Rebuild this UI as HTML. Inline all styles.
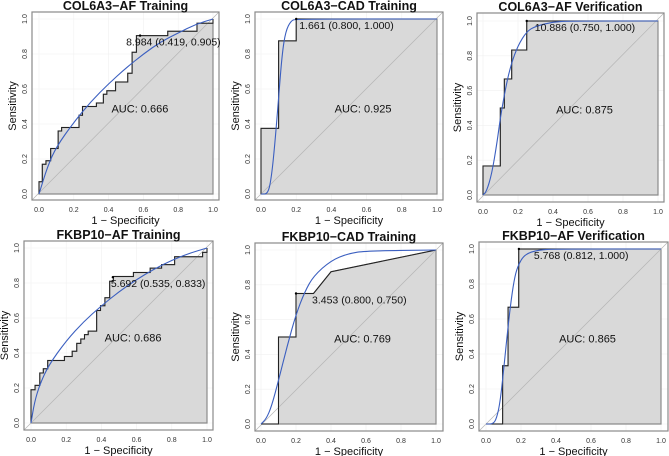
<!DOCTYPE html>
<html><head><meta charset="utf-8">
<style>
body{margin:0;background:#fff;}
svg{display:block;font-family:"Liberation Sans",sans-serif;}
</style></head>
<body>
<svg id="chart" width="669" height="456" viewBox="0 0 669 456"></svg>
<script>
// ---- data (x = 1 - specificity, y = sensitivity) ----
const titles = ["COL6A3\u2212AF Training","COL6A3\u2212CAD Training","COL6A3\u2212AF Verification","FKBP10\u2212AF Training","FKBP10\u2212CAD Training","FKBP10\u2212AF Verification"];
const aucLabels = ["AUC: 0.666","AUC: 0.925","AUC: 0.875","AUC: 0.686","AUC: 0.769","AUC: 0.865"];
const thresholdLabels = ["8.984 (0.419, 0.905)","1.661 (0.800, 1.000)","10.886 (0.750, 1.000)","5.692 (0.535, 0.833)","3.453 (0.800, 0.750)","5.768 (0.812, 1.000)"];
const thresholdX = [0.581,0.2,0.25,0.465,0.2,0.188];
const thresholdY = [0.905,1.0,1.0,0.833,0.75,1.0];
const stepX1 = [0,0,0.019,0.019,0.04,0.04,0.067,0.067,0.11,0.11,0.13,0.13,0.23,0.23,0.25,0.25,0.33,0.33,0.37,0.37,0.39,0.39,0.44,0.44,0.51,0.51,0.535,0.535,0.56,0.56,0.74,0.74,0.908,0.908,1,1];
const stepY1 = [0,0.07,0.07,0.17,0.17,0.19,0.19,0.26,0.26,0.36,0.36,0.38,0.38,0.45,0.45,0.50,0.50,0.52,0.52,0.57,0.57,0.59,0.59,0.64,0.64,0.69,0.69,0.81,0.81,0.905,0.905,0.93,0.93,0.976,0.976,1];
const stepX2 = [0,0,0.1,0.1,0.2,0.2,1];
const stepY2 = [0,0.375,0.375,0.875,0.875,1,1];
const stepX3 = [0,0,0.099,0.099,0.122,0.122,0.164,0.164,0.25,0.25,1];
const stepY3 = [0,0.167,0.167,0.5,0.5,0.667,0.667,0.833,0.833,1,1];
const stepX4 = [0,0,0.023,0.023,0.05,0.05,0.07,0.07,0.095,0.095,0.19,0.19,0.234,0.234,0.26,0.26,0.283,0.283,0.304,0.304,0.325,0.325,0.373,0.373,0.395,0.395,0.42,0.42,0.447,0.447,0.468,0.468,0.582,0.582,0.677,0.677,0.742,0.742,0.816,0.816,0.975,0.975,1,1];
const stepY4 = [0,0.19,0.19,0.215,0.215,0.286,0.286,0.31,0.31,0.357,0.357,0.38,0.38,0.41,0.41,0.455,0.455,0.48,0.48,0.505,0.505,0.525,0.525,0.643,0.643,0.67,0.67,0.716,0.716,0.81,0.81,0.837,0.837,0.86,0.86,0.885,0.885,0.905,0.905,0.95,0.95,0.975,0.975,1];
const stepX5 = [0,0.1,0.1,0.2,0.2,0.3,0.4,1];
const stepY5 = [0,0,0.5,0.5,0.75,0.75,0.875,1];
const stepX6 = [0,0.095,0.095,0.126,0.126,0.187,0.187,1];
const stepY6 = [0,0,0.333,0.333,0.667,0.667,1,1];
const smoothX1 = [0,0.05,0.1,0.2,0.3,0.4,0.5,0.6,0.7,0.8,0.9,1];
const smoothY1 = [0,0.16,0.27,0.41,0.53,0.63,0.72,0.8,0.87,0.92,0.97,1];
const smoothX2 = [0,0.04,0.06,0.08,0.1,0.12,0.14,0.17,0.2,1];
const smoothY2 = [0,0,0.1,0.3,0.55,0.8,0.93,0.99,1,1];
const smoothX3 = [0,0.02,0.05,0.08,0.1,0.13,0.16,0.2,0.25,0.3,0.4,0.5,1];
const smoothY3 = [0,0.02,0.12,0.3,0.45,0.62,0.75,0.86,0.94,0.97,0.995,1,1];
const smoothX4 = [0,0.02,0.05,0.1,0.2,0.3,0.4,0.5,0.6,0.7,0.8,0.9,1];
const smoothY4 = [0,0.12,0.22,0.33,0.47,0.58,0.67,0.75,0.82,0.88,0.93,0.97,1];
const smoothX5 = [0,0.03,0.06,0.1,0.15,0.2,0.25,0.3,0.4,0.5,0.6,1];
const smoothY5 = [0,0.03,0.1,0.25,0.45,0.63,0.76,0.85,0.94,0.98,0.995,1];
const smoothX6 = [0,0.04,0.06,0.08,0.1,0.12,0.14,0.16,0.18,0.22,0.3,0.4,1];
const smoothY6 = [0,0,0.03,0.12,0.3,0.5,0.68,0.82,0.9,0.97,0.995,1,1];
const tickValues = [0,0.2,0.4,0.6,0.8,1.0];
const tickLabels = ["0.0","0.2","0.4","0.6","0.8","1.0"];

const stepXs=[stepX1,stepX2,stepX3,stepX4,stepX5,stepX6];
const stepYs=[stepY1,stepY2,stepY3,stepY4,stepY5,stepY6];
const smoothXs=[smoothX1,smoothX2,smoothX3,smoothX4,smoothX5,smoothX6];
const smoothYs=[smoothY1,smoothY2,smoothY3,smoothY4,smoothY5,smoothY6];

const layouts=[
 {x0:39,x1:213,y0:194,y1:19,bx:32,by:12,bw:187,bh:188,lo:-14},
 {x0:261,x1:437,y0:194,y1:19,bx:255,by:12,bw:188,bh:188,lo:3},
 {x0:483,x1:658,y0:195,y1:21,bx:477,by:13,bw:187,bh:189,lo:8},
 {x0:31,x1:207,y0:423,y1:248,bx:24,by:241,bw:189,bh:189,lo:-2},
 {x0:261,x1:436,y0:424,y1:250,bx:255,by:243,bw:188,bh:188,lo:16},
 {x0:486,x1:661,y0:424,y1:249,bx:479,by:242,bw:189,bh:189,lo:15}
];
const NS="http://www.w3.org/2000/svg";
const svg=document.getElementById('chart');
function mk(tag,attrs,parent){const e=document.createElementNS(NS,tag);for(const k in attrs)e.setAttribute(k,attrs[k]);parent.appendChild(e);return e;}

layouts.forEach((L,i)=>{
 const sx=v=>L.x0+v*(L.x1-L.x0);
 const sy=v=>L.y0+v*(L.y1-L.y0);
 const g=mk('g',{},svg);
 
 
 tickValues.forEach(t=>{
  const gl=mk('line',{x1:sx(t),x2:sx(t),y1:L.by,y2:L.by+L.bh,stroke:'#f0f0f0','stroke-width':0.6},g);
  
  
  const gh=mk('line',{x1:L.bx,x2:L.bx+L.bw,y1:sy(t),y2:sy(t),stroke:'#f0f0f0','stroke-width':0.6},g);
  
  
 });
 const sX=stepXs[i], sY=stepYs[i];
 let pts=sX.map((x,k)=>sx(x)+','+sy(sY[k])).join(' ');
 pts+=' '+sx(1)+','+sy(0);
 const area=mk('polygon',{points:pts,fill:'#d9d9d9',stroke:'#8c8c8c','stroke-width':1.2},g);
 
 
 const dg=mk('line',{x1:L.bx,y1:L.by+L.bh,x2:L.bx+L.bw,y2:L.by,stroke:'#b5b5b5','stroke-width':0.7},g);
 
 
 const st=mk('polyline',{points:sX.map((x,k)=>sx(x)+','+sy(sY[k])).join(' '),fill:'none',stroke:'#222','stroke-width':1},g);
 
 
 const mX=smoothXs[i], mY=smoothYs[i];
 let d='M'+sx(mX[0])+','+sy(mY[0]);
 for(let k=1;k<mX.length;k++){
  const xm=(sx(mX[k-1])+sx(mX[k]))/2, ym=(sy(mY[k-1])+sy(mY[k]))/2;
  d+=' Q'+sx(mX[k-1])+','+sy(mY[k-1])+' '+xm+','+ym;
 }
 d+=' L'+sx(mX[mX.length-1])+','+sy(mY[mY.length-1]);
 const sm=mk('path',{d:d,fill:'none',stroke:'#3b5fc0','stroke-width':1.1},g);
 
 
 const fr=mk('rect',{x:L.bx,y:L.by,width:L.bw,height:L.bh,fill:'none',stroke:'#8a8a8a','stroke-width':1.2},g);
 
 
 const px=sx(thresholdX[i]), py=sy(thresholdY[i]);
 const dot=mk('circle',{cx:px,cy:py,r:1.2,fill:'#000'},g);
 
 
 const tl=mk('text',{x:px+L.lo,y:py+10,'font-size':10.5,fill:'#111'},g);
 tl.textContent=thresholdLabels[i];
 
 
 const al=mk('text',{x:sx(0.58),y:sy(0.49)+4,'font-size':11,fill:'#111','text-anchor':'middle'},g);
 al.textContent=aucLabels[i];
 
 
 const tt=mk('text',{x:L.bx+L.bw/2,y:L.by-2,'font-size':12.5,'font-weight':'bold',fill:'#111','text-anchor':'middle'},g);
 tt.textContent=titles[i];
 
 
 tickValues.forEach((t,k)=>{
  const xl=mk('text',{x:sx(t),y:L.by+L.bh+12,'font-size':7,fill:'#333','text-anchor':'middle'},g);
  xl.textContent=tickLabels[k];
  
  
  const yy=sy(t), xx=L.bx-5;
  const yl=mk('text',{x:xx,y:yy,'font-size':7,fill:'#333','text-anchor':'middle',transform:'rotate(-90 '+xx+' '+yy+')'},g);
  yl.textContent=tickLabels[k];
  
  
 });
 const xt=mk('text',{x:L.bx+L.bw/2,y:L.by+L.bh+24,'font-size':11,fill:'#111','text-anchor':'middle'},g);
 xt.textContent='1 \u2212 Specificity';
 
 
 const ycx=L.bx-16, ycy=L.by+L.bh/2;
 const yt=mk('text',{x:ycx,y:ycy,'font-size':11,fill:'#111','text-anchor':'middle',transform:'rotate(-90 '+ycx+' '+ycy+')'},g);
 yt.textContent='Sensitivity';
 
 
});
</script>
</body></html>
